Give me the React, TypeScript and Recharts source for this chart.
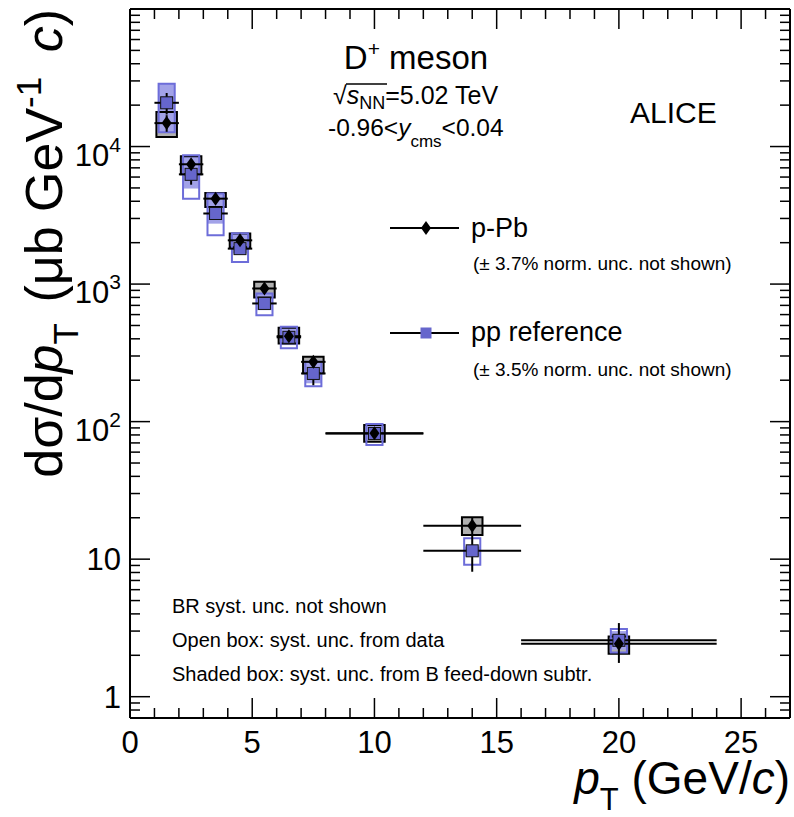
import React from 'react';
import { ComposedChart, Scatter, XAxis, YAxis, ErrorBar, ReferenceArea } from 'recharts';

// pT bins (GeV/c)
const ptCenters = [1.5, 2.5, 3.5, 4.5, 5.5, 6.5, 7.5, 10, 14, 20];
const ptHalfWidths = [0.5, 0.5, 0.5, 0.5, 0.5, 0.5, 0.5, 2, 2, 4];

// p-Pb cross section (ub GeV^-1 c)
const pPbValues = [14800, 7430, 4180, 2080, 929, 418, 272, 82.2, 17.5, 2.43];
const pPbStatLow = [2000, 600, 290, 125, 55, 30, 25, 7, 2.6, 0.67];
const pPbStatHigh = [2100, 600, 290, 125, 55, 30, 25, 7, 2.6, 1.0];
const pPbSystLow = [11720, 6280, 3640, 1850, 799, 370, 225, 71.5, 15.0, 2.05];
const pPbSystHigh = [17800, 8490, 4590, 2330, 1038, 481, 296, 94.5, 20.2, 2.74];
const pPbFdLow = [11720, 6280, 3640, 1850, 799, 370, 225, 71.5, 15.0, 2.05];
const pPbFdHigh = [17800, 8490, 4590, 2330, 1038, 481, 296, 94.5, 20.2, 2.74];

// pp reference
const ppValues = [20800, 6280, 3260, 1810, 723, 410, 224, 82, 11.5, 2.57];
const ppStatLow = [3700, 1000, 300, 120, 40, 25, 40, 6, 3.4, 0.2];
const ppStatHigh = [3700, 1000, 300, 120, 40, 25, 40, 6, 3.4, 0.2];
const ppSystLow = [12700, 4180, 2265, 1449, 594, 341, 181, 67.6, 9.09, 2.1];
const ppSystHigh = [28600, 8630, 4550, 2343, 855, 489, 272, 96, 14.2, 3.1];
const ppFdLow = [12700, 4950, 2750, 1670, 646, 360, 190, 73.5, 10.45, 2.2];
const ppFdHigh = [28600, 8630, 4550, 2343, 855, 489, 272, 96, 12.35, 3.0];

// axis ticks
const xTicks = [0, 1, 2, 3, 4, 5, 6, 7, 8, 9, 10, 11, 12, 13, 14, 15, 16, 17, 18, 19, 20, 21, 22, 23, 24, 25, 26, 27];
const xMajorTicks = [0, 5, 10, 15, 20, 25];
const yTicks = [
  0.8, 0.9,
  1, 2, 3, 4, 5, 6, 7, 8, 9,
  10, 20, 30, 40, 50, 60, 70, 80, 90,
  100, 200, 300, 400, 500, 600, 700, 800, 900,
  1000, 2000, 3000, 4000, 5000, 6000, 7000, 8000, 9000,
  10000, 20000, 30000, 40000, 50000, 60000, 70000, 80000, 90000,
  100000,
];
const yMajorTicks = [1, 10, 100, 1000, 10000, 100000];
const yTickLabels: Record<number, [string, string]> = {
  1: ['1', ''],
  10: ['10', ''],
  100: ['10', '2'],
  1000: ['10', '3'],
  10000: ['10', '4'],
};

const FONT = '"Liberation Sans", Arial, Helvetica, sans-serif';
const PPB_BOX_HALF = 0.42;
const PP_BOX_HALF = 0.33;
const MAJOR_LEN = 20;
const MINOR_LEN = 10;

const pPbData = ptCenters.map((x, i) => ({
  x,
  y: pPbValues[i],
  ex: ptHalfWidths[i],
  ey: [pPbStatLow[i], pPbStatHigh[i]],
}));
const ppData = ptCenters.map((x, i) => ({
  x,
  y: ppValues[i],
  ex: ptHalfWidths[i],
  ey: [ppStatLow[i], ppStatHigh[i]],
}));

const BottomTick = (props: any) => {
  const { x, y, payload } = props;
  const major = xMajorTicks.includes(payload.value);
  return (
    <g>
      <line x1={x} x2={x} y1={y} y2={y - (major ? MAJOR_LEN : MINOR_LEN)} stroke="#000" strokeWidth={1.5} />
      {major && (
        <text x={x} y={y + 35} textAnchor="middle" fontSize={31} fontFamily={FONT} fill="#000">
          {payload.value}
        </text>
      )}
    </g>
  );
};

const TopTick = (props: any) => {
  const { x, y, payload } = props;
  const major = xMajorTicks.includes(payload.value);
  return <line x1={x} x2={x} y1={y} y2={y + (major ? MAJOR_LEN : MINOR_LEN)} stroke="#000" strokeWidth={1.5} />;
};

const LeftTick = (props: any) => {
  const { x, y, payload } = props;
  const major = yMajorTicks.includes(payload.value);
  const lab = yTickLabels[payload.value];
  return (
    <g>
      <line x1={x} x2={x + (major ? MAJOR_LEN : MINOR_LEN)} y1={y} y2={y} stroke="#000" strokeWidth={1.5} />
      {lab && (
        <text x={x - 9} y={y + (lab[1] ? 19 : 11)} textAnchor="end" fontSize={31} fontFamily={FONT} fill="#000">
          {lab[0]}
          {lab[1] && (
            <tspan fontSize={21} dy={-14}>
              {lab[1]}
            </tspan>
          )}
        </text>
      )}
    </g>
  );
};

const RightTick = (props: any) => {
  const { x, y, payload } = props;
  const major = yMajorTicks.includes(payload.value);
  return <line x1={x} x2={x - (major ? MAJOR_LEN : MINOR_LEN)} y1={y} y2={y} stroke="#000" strokeWidth={1.5} />;
};

const Diamond = (props: any) => {
  const { cx, cy } = props;
  return <path d={`M${cx},${cy - 7} L${cx + 5},${cy} L${cx},${cy + 7} L${cx - 5},${cy} Z`} fill="#000" />;
};

const Square = (props: any) => {
  const { cx, cy } = props;
  return <rect x={cx - 6} y={cy - 6} width={12} height={12} fill="#6666cc" stroke="#111" strokeWidth={1} />;
};

export default function App() {
  return (
    <div style={{ position: 'absolute', left: 0, top: 0, width: 794, height: 817, background: '#fff' }}>
      <ComposedChart width={794} height={817} margin={{ top: 8, right: 3, bottom: 0, left: 0 }}>
        <XAxis
          xAxisId="bottom"
          type="number"
          dataKey="x"
          domain={[0, 27]}
          ticks={xTicks}
          interval={0}
          height={99}
          tickSize={0}
          tickMargin={0}
          tickLine={false}
          axisLine={{ stroke: '#000', strokeWidth: 2 }}
          tick={<BottomTick />}
          allowDataOverflow
        />
        <XAxis
          xAxisId="top"
          orientation="top"
          type="number"
          dataKey="x"
          domain={[0, 27]}
          ticks={xTicks}
          interval={0}
          height={1}
          tickSize={0}
          tickMargin={0}
          tickLine={false}
          axisLine={{ stroke: '#000', strokeWidth: 2 }}
          tick={<TopTick />}
          allowDataOverflow
        />
        <YAxis
          yAxisId="left"
          type="number"
          dataKey="y"
          scale="log"
          domain={[0.7, 100000]}
          ticks={yTicks}
          interval={0}
          width={130}
          tickSize={0}
          tickMargin={0}
          tickLine={false}
          axisLine={{ stroke: '#000', strokeWidth: 2 }}
          tick={<LeftTick />}
          allowDataOverflow
        />
        <YAxis
          yAxisId="right"
          orientation="right"
          type="number"
          dataKey="y"
          scale="log"
          domain={[0.7, 100000]}
          ticks={yTicks}
          interval={0}
          width={1}
          tickSize={0}
          tickMargin={0}
          tickLine={false}
          axisLine={{ stroke: '#000', strokeWidth: 2 }}
          tick={<RightTick />}
          allowDataOverflow
        />

        {/* feed-down shaded boxes */}
        {ptCenters.map((x, i) => (
          <ReferenceArea
            key={`pPbFd${i}`}
            xAxisId="bottom"
            yAxisId="left"
            x1={x - PPB_BOX_HALF}
            x2={x + PPB_BOX_HALF}
            y1={pPbFdLow[i]}
            y2={pPbFdHigh[i]}
            fill="#b0b0b0"
            fillOpacity={1}
            stroke="none"
          />
        ))}
        {ptCenters.map((x, i) => (
          <ReferenceArea
            key={`ppFd${i}`}
            xAxisId="bottom"
            yAxisId="left"
            x1={x - PP_BOX_HALF}
            x2={x + PP_BOX_HALF}
            y1={ppFdLow[i]}
            y2={ppFdHigh[i]}
            fill="#a2a2e8"
            fillOpacity={1}
            stroke="none"
          />
        ))}
        {/* open boxes: syst. from data */}
        {ptCenters.map((x, i) => (
          <ReferenceArea
            key={`pPbSys${i}`}
            xAxisId="bottom"
            yAxisId="left"
            x1={x - PPB_BOX_HALF}
            x2={x + PPB_BOX_HALF}
            y1={pPbSystLow[i]}
            y2={pPbSystHigh[i]}
            fill="none"
            stroke="#000"
            strokeWidth={2}
          />
        ))}
        {ptCenters.map((x, i) => (
          <ReferenceArea
            key={`ppSys${i}`}
            xAxisId="bottom"
            yAxisId="left"
            x1={x - PP_BOX_HALF}
            x2={x + PP_BOX_HALF}
            y1={ppSystLow[i]}
            y2={ppSystHigh[i]}
            fill="none"
            stroke="#6d6dd9"
            strokeWidth={2}
          />
        ))}

        <Scatter
          name="pp reference"
          data={ppData}
          xAxisId="bottom"
          yAxisId="left"
          shape={<Square />}
          isAnimationActive={false}
        >
          <ErrorBar dataKey="ey" direction="y" width={0} stroke="#000" strokeWidth={2} isAnimationActive={false} />
          <ErrorBar dataKey="ex" direction="x" width={0} stroke="#000" strokeWidth={2} isAnimationActive={false} />
        </Scatter>
        <Scatter
          name="p-Pb"
          data={pPbData}
          xAxisId="bottom"
          yAxisId="left"
          shape={<Diamond />}
          isAnimationActive={false}
        >
          <ErrorBar dataKey="ey" direction="y" width={0} stroke="#000" strokeWidth={2} isAnimationActive={false} />
          <ErrorBar dataKey="ex" direction="x" width={0} stroke="#000" strokeWidth={2} isAnimationActive={false} />
        </Scatter>
      </ComposedChart>

      <svg
        width={794}
        height={817}
        style={{ position: 'absolute', left: 0, top: 0, pointerEvents: 'none' }}
        fontFamily={FONT}
        fill="#000"
      >
        {/* axis titles */}
        <text transform="translate(62, 9) rotate(-90)" textAnchor="end" fontSize={52}>
          dσ/d<tspan fontStyle="italic">p</tspan>
          <tspan fontSize={35} dy={16}>T</tspan>
          <tspan dy={-16} dx={6}> (μb GeV</tspan>
          <tspan fontSize={35} dy={-21}>-1</tspan>
          <tspan dy={21} dx={10}> </tspan>
          <tspan fontStyle="italic">c</tspan>)
        </text>
        <text x={790} y={794} textAnchor="end" fontSize={46}>
          <tspan fontStyle="italic">p</tspan>
          <tspan fontSize={31} dy={16}>T</tspan>
          <tspan dy={-16}> (GeV/</tspan>
          <tspan fontStyle="italic">c</tspan>)
        </text>

        {/* header */}
        <text x={416} y={69} textAnchor="middle" fontSize={33}>
          D<tspan fontSize={21} dy={-13}>+</tspan>
          <tspan dy={13}> meson</tspan>
        </text>
        <text x={333} y={104} fontSize={25}>
          √<tspan fontStyle="italic">s</tspan>
          <tspan fontSize={18} dy={5}>NN</tspan>
          <tspan dy={-5}>=5.02 TeV</tspan>
        </text>
        <line x1={346} x2={387} y1={84} y2={84} stroke="#000" strokeWidth={1.5} />
        <text x={328} y={136} fontSize={24.5}>
          -0.96&lt;<tspan fontStyle="italic">y</tspan>
          <tspan fontSize={17} dy={11}>cms</tspan>
          <tspan dy={-11}>&lt;0.04</tspan>
        </text>
        <text x={630} y={123} fontSize={30}>ALICE</text>

        {/* legend */}
        <line x1={390} x2={459} y1={228} y2={228} stroke="#000" strokeWidth={2} />
        <path d="M426,221 L431,228 L426,235 L421,228 Z" fill="#000" />
        <text x={471} y={237} fontSize={27}>p-Pb</text>
        <text x={473} y={270} fontSize={19}>(± 3.7% norm. unc. not shown)</text>

        <line x1={390} x2={459} y1={333} y2={333} stroke="#000" strokeWidth={2} />
        <rect x={420.5} y={327.5} width={11} height={11} fill="#6666cc" />
        <text x={471} y={341} fontSize={27}>pp reference</text>
        <text x={473} y={376} fontSize={19}>(± 3.5% norm. unc. not shown)</text>

        {/* notes */}
        <text x={172} y={613} fontSize={20}>BR syst. unc. not shown</text>
        <text x={172} y={647} fontSize={20}>Open box: syst. unc. from data</text>
        <text x={172} y={681} fontSize={20}>Shaded box: syst. unc. from B feed-down subtr.</text>
      </svg>
    </div>
  );
}
